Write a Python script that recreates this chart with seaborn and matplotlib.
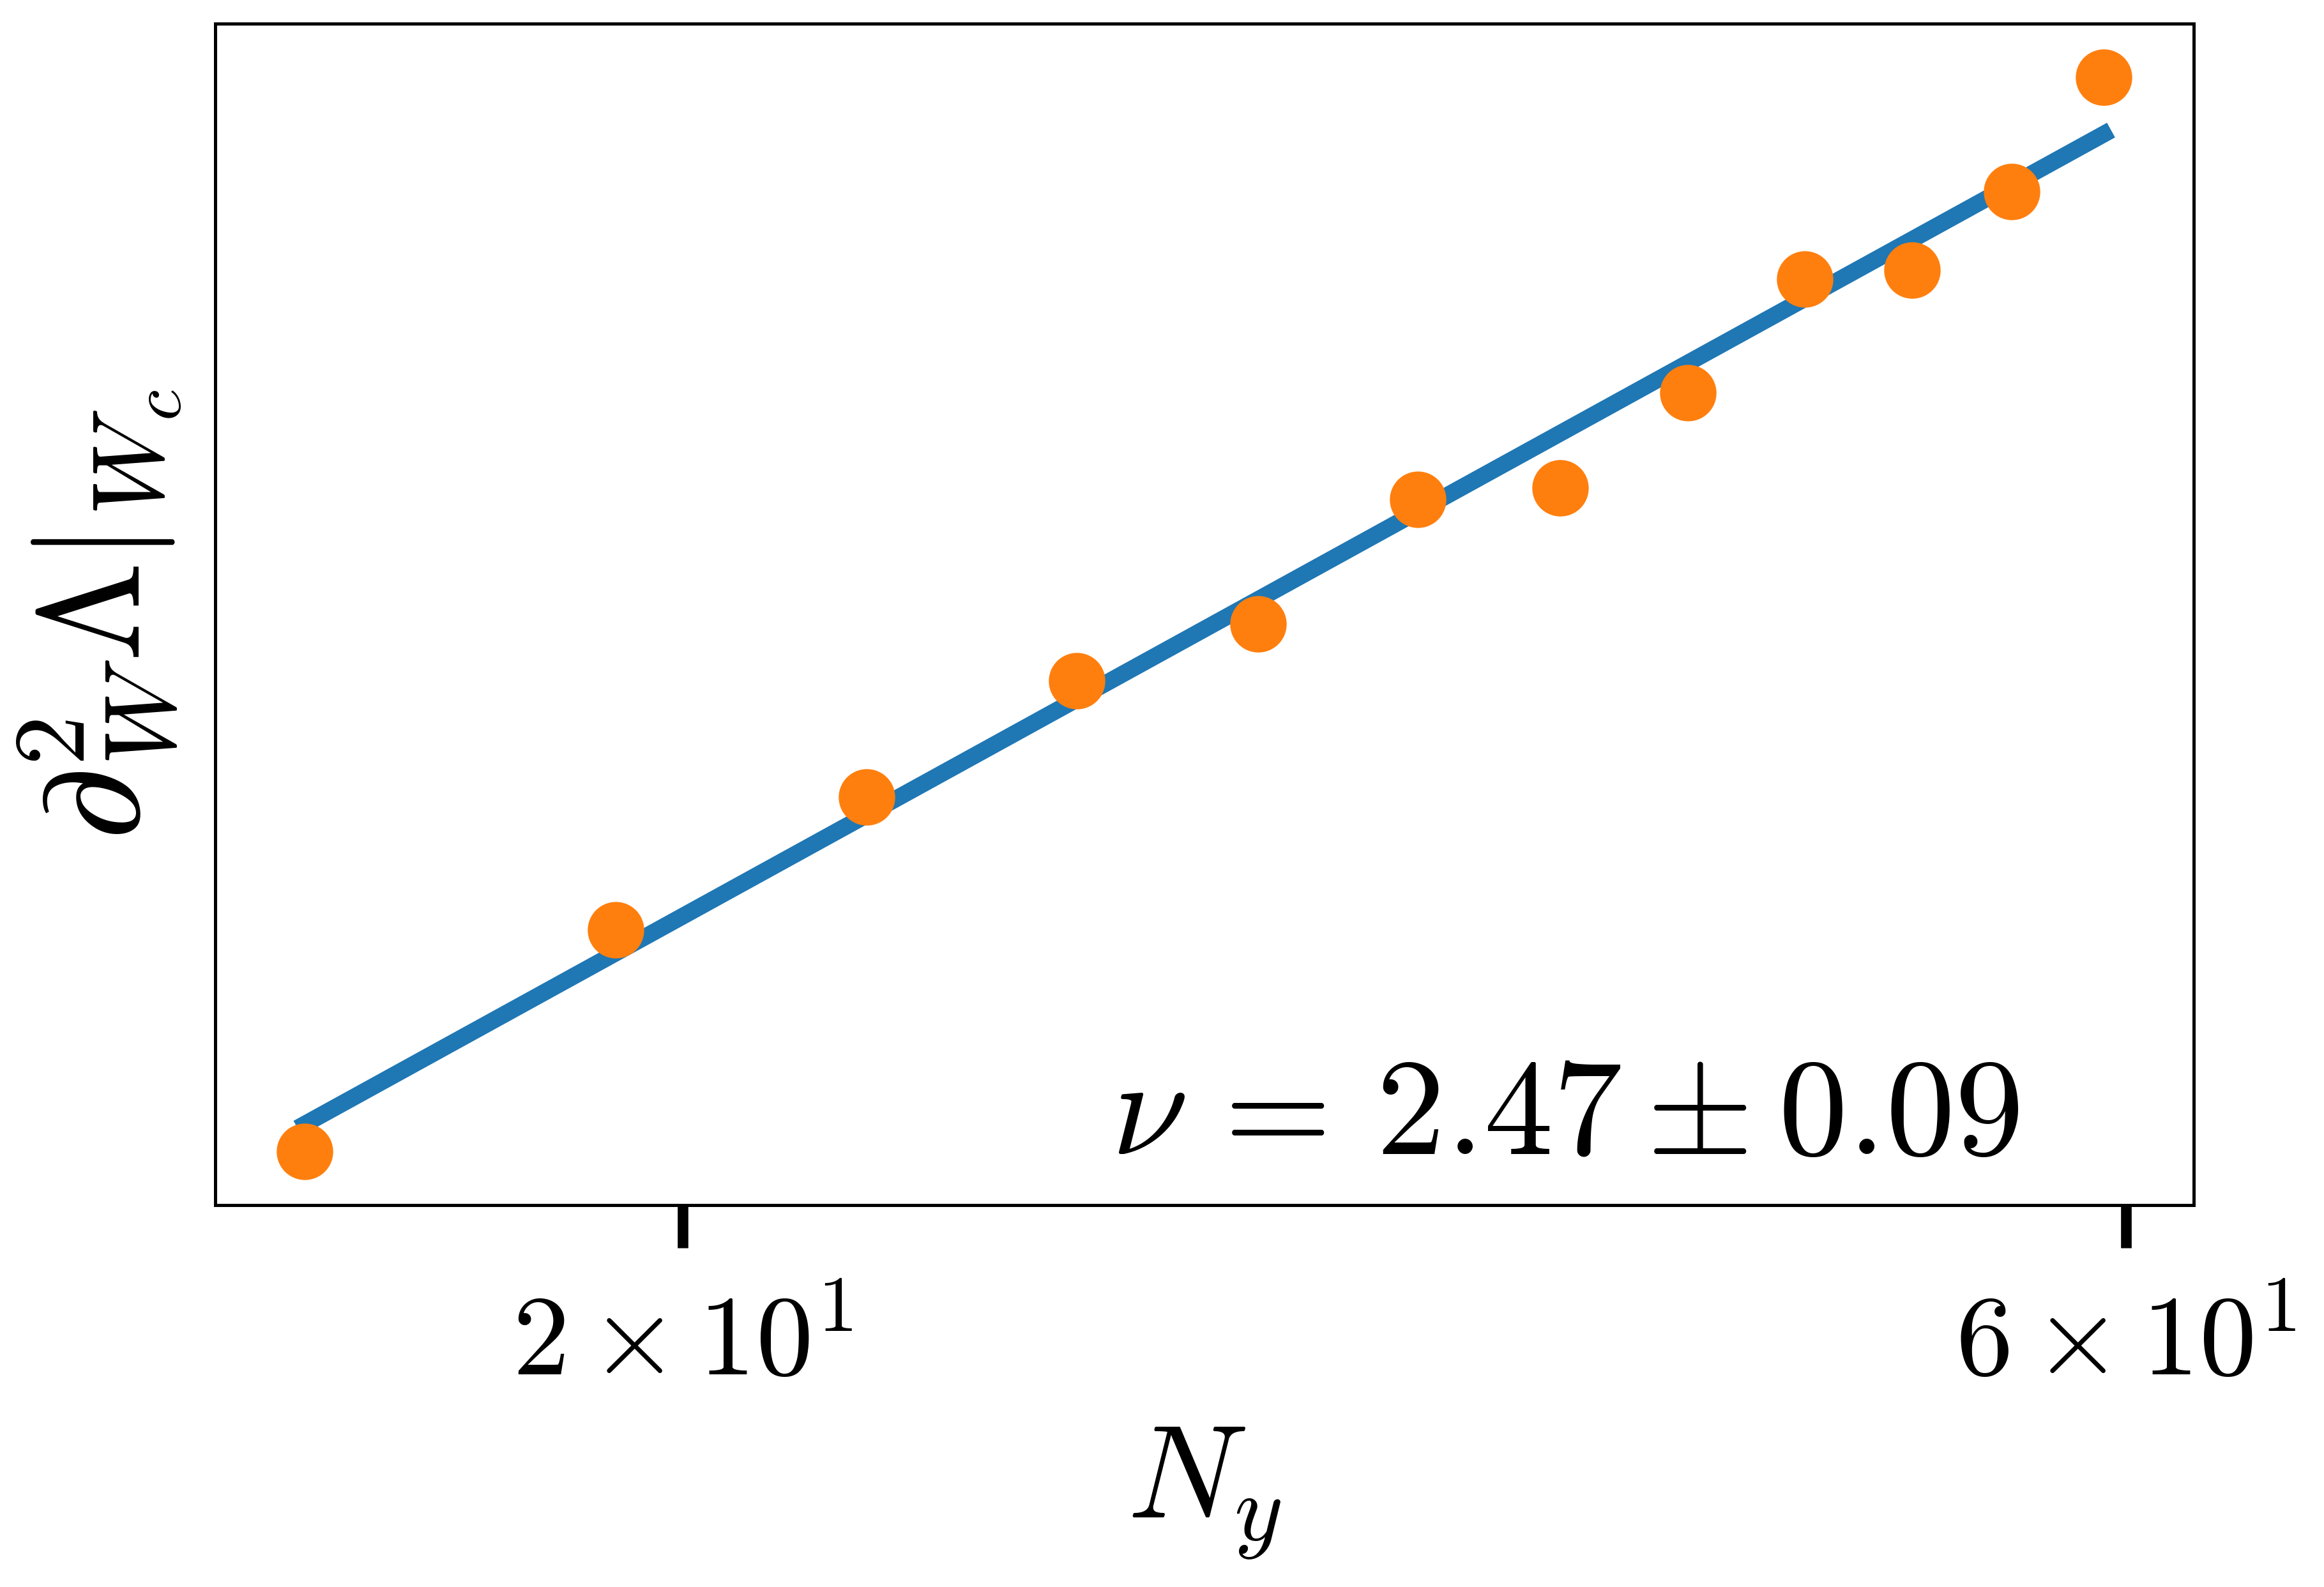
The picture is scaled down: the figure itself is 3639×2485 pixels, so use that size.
import numpy as np
import pandas as pd
import matplotlib
matplotlib.use("Agg")
import matplotlib.pyplot as plt
from matplotlib.ticker import NullLocator, FixedLocator, FixedFormatter
import seaborn as sns

# ---- data ----
Ny = [15, 19, 23, 27, 31, 35, 39, 43, 47, 51, 55, 59]
d2Lambda = [9.70, 12.43, 14.42, 16.43, 17.51, 20.13, 20.39, 22.68, 25.76, 26.02, 28.41, 32.29]
fit_Ny = [15, 59]
fit_vals = [10.0, 30.30]
xtick_vals = [20, 60]
xtick_labels = [r"$2\times10^{1}$", r"$6\times10^{1}$"]
annotation = r"$\nu\,=\,2.47 \pm 0.09$"

sns.set_style("white")
plt.rcParams["mathtext.fontset"] = "cm"
plt.rcParams["font.family"] = ["DejaVu Serif", "DejaVu Sans"]
plt.rcParams["text.color"] = "black"
plt.rcParams["axes.labelcolor"] = "black"
plt.rcParams["xtick.color"] = "black"
plt.rcParams["ytick.color"] = "black"
plt.rcParams["axes.edgecolor"] = "black"

fig = plt.figure(figsize=(3639 / 300, 2485 / 300), dpi=300)
ax = fig.add_axes([0.0925, 0.2407, 0.8514, 0.7444])
ax.set_xscale("log")
ax.set_yscale("log")

fit_df = pd.DataFrame({"Ny": fit_Ny, "val": fit_vals})
pts_df = pd.DataFrame({"Ny": Ny, "val": d2Lambda})

sns.lineplot(data=fit_df, x="Ny", y="val", color="#1f77b4", linewidth=6.3, ax=ax, zorder=2)
ax.lines[-1].set_solid_capstyle("projecting")
sns.scatterplot(data=pts_df, x="Ny", y="val", color="#ff7f0e", s=450, linewidth=0, ax=ax, zorder=3)

ax.xaxis.set_major_locator(FixedLocator(xtick_vals))
ax.xaxis.set_major_formatter(FixedFormatter(xtick_labels))
ax.xaxis.set_minor_locator(NullLocator())
ax.yaxis.set_major_locator(NullLocator())
ax.yaxis.set_minor_locator(NullLocator())

ax.tick_params(axis="x", which="major", direction="out", length=16, width=4,
               pad=15, labelsize=43, color="black", labelcolor="black", bottom=True)

for sp in ax.spines.values():
    sp.set_color("black")
    sp.set_linewidth(1.2)
    sp.set_visible(True)

ax.set_xlabel(r"$N_y$", fontsize=50, labelpad=10, color="black")
ax.set_ylabel(r"$\partial_W^2 \Lambda|_{W_c}$", fontsize=54, labelpad=12, color="black")

ax.text(0.6824, 0.043, annotation, transform=ax.transAxes, ha="center",
        va="baseline", fontsize=52, color="black")

fig.savefig("out.png", dpi=300, facecolor="white")
